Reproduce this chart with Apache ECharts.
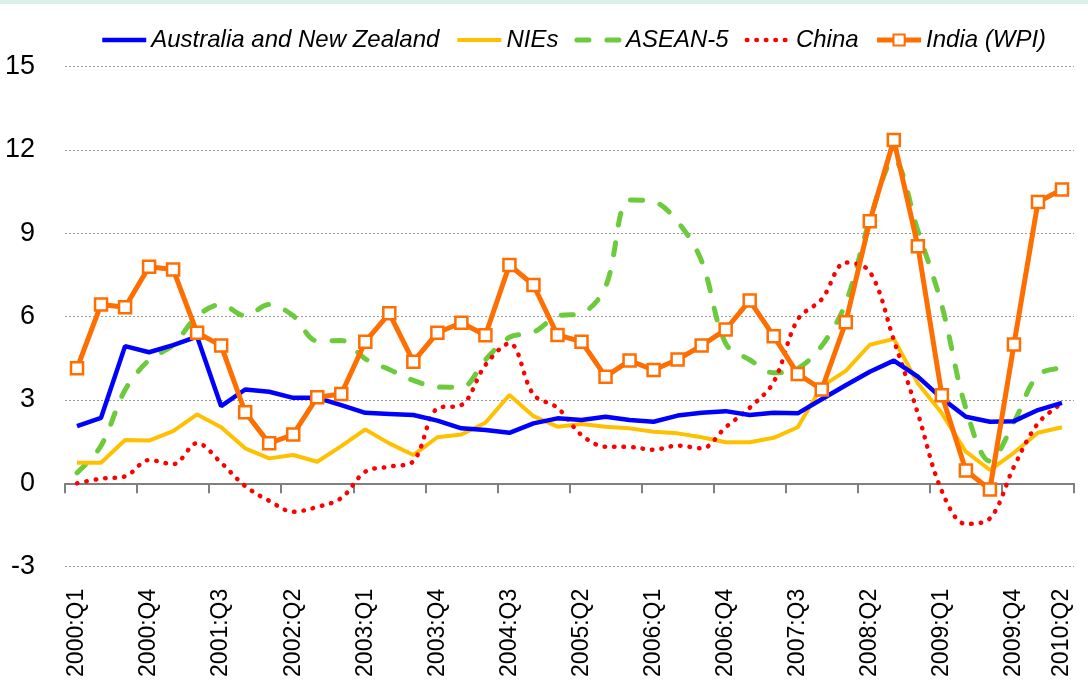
<!DOCTYPE html>
<html>
<head>
<meta charset="utf-8">
<script src="https://cdn.jsdelivr.net/npm/echarts@6/dist/echarts.min.js"></script>
<style>
html,body{margin:0;padding:0;background:#fff;}
#chart{width:1088px;height:685px;}
</style>
</head>
<body>
<div id="chart"></div>
<script>
const quarters = [
  "2000:Q1","2000:Q2","2000:Q3","2000:Q4","2001:Q1","2001:Q2","2001:Q3","2001:Q4",
  "2002:Q1","2002:Q2","2002:Q3","2002:Q4","2003:Q1","2003:Q2","2003:Q3","2003:Q4",
  "2004:Q1","2004:Q2","2004:Q3","2004:Q4","2005:Q1","2005:Q2","2005:Q3","2005:Q4",
  "2006:Q1","2006:Q2","2006:Q3","2006:Q4","2007:Q1","2007:Q2","2007:Q3","2007:Q4",
  "2008:Q1","2008:Q2","2008:Q3","2008:Q4","2009:Q1","2009:Q2","2009:Q3","2009:Q4",
  "2010:Q1","2010:Q2"
];
const yTicks = [-3, 0, 3, 6, 9, 12, 15];

const anz = [2.06,2.36,4.94,4.72,4.98,5.28,2.78,3.38,3.30,3.08,3.08,2.82,2.54,2.50,2.46,2.26,1.98,1.92,1.82,2.16,2.34,2.28,2.40,2.28,2.22,2.44,2.54,2.60,2.46,2.54,2.52,3.03,3.53,4.02,4.42,3.84,3.06,2.40,2.22,2.24,2.64,2.90];
const nies = [0.74,0.74,1.56,1.54,1.88,2.48,2.02,1.26,0.90,1.02,0.78,1.34,1.94,1.44,1.02,1.66,1.76,2.18,3.18,2.42,2.04,2.14,2.04,1.98,1.86,1.80,1.66,1.48,1.48,1.64,2.02,3.49,4.05,4.99,5.20,3.60,2.52,1.14,0.48,1.10,1.82,2.02];
const asean5 = [0.38,1.35,3.36,4.44,4.98,6.01,6.44,6.03,6.44,6.03,5.13,5.14,4.48,4.10,3.71,3.47,3.46,4.45,5.26,5.44,6.02,6.12,7.08,10.20,10.14,9.42,8.00,5.04,4.45,3.98,4.14,4.95,6.50,9.48,11.64,9.10,6.40,2.70,0.80,2.20,3.90,4.15];
const china = [0.00,0.17,0.25,0.84,0.69,1.45,0.74,-0.10,-0.63,-1.02,-0.85,-0.53,0.42,0.60,0.80,2.70,2.82,4.26,5.04,3.20,2.72,1.74,1.32,1.31,1.21,1.36,1.26,2.02,2.72,3.65,5.90,6.63,7.95,7.62,5.16,2.52,-0.28,-1.46,-1.26,0.60,2.16,2.88];
const indiaWPI = [4.14,6.44,6.34,7.80,7.70,5.42,4.96,2.56,1.44,1.76,3.10,3.22,5.10,6.12,4.38,5.42,5.78,5.33,7.86,7.14,5.34,5.10,3.84,4.42,4.08,4.46,4.96,5.54,6.58,5.30,3.94,3.38,5.80,9.44,12.36,8.54,3.17,0.46,-0.22,5.00,10.13,10.58];

const font = "'Liberation Sans',Arial,sans-serif";
const hideSym = {opacity: 0};

const chart = echarts.init(document.getElementById('chart'), null, {renderer: 'canvas'});
chart.setOption({
  animation: false,
  backgroundColor: '#ffffff',
  graphic: [{
    type: 'rect', left: 0, top: 0, z: -1,
    shape: {width: 1088, height: 4},
    style: {fill: '#dcefe8'}
  }],
  legend: {
    top: 23, left: 95,
    itemWidth: 44, itemHeight: 14, itemGap: 16,
    lineStyle: {width: 'inherit'},
    textStyle: {fontSize: 24, fontStyle: 'italic', fontFamily: font, color: '#000'},
    data: [
      {name: 'Australia and New Zealand', itemStyle: hideSym},
      {name: 'NIEs', itemStyle: hideSym},
      {name: 'ASEAN-5', itemStyle: hideSym},
      {name: 'China', itemStyle: hideSym},
      {name: 'India (WPI)'}
    ]
  },
  grid: {left: 65, top: 66.7, width: 1009, height: 500, containLabel: false},
  xAxis: [{
    type: 'category', data: quarters, boundaryGap: true,
    axisLine: {show: true, onZero: true, lineStyle: {color: '#808080', width: 2}},
    axisTick: {show: true, interval: 2, length: 10, lineStyle: {color: '#808080', width: 2}},
    axisLabel: {show: false},
    splitLine: {show: false}
  }, {
    type: 'category', data: quarters, boundaryGap: true, position: 'bottom',
    axisLine: {show: false, onZero: false},
    axisTick: {show: false},
    axisLabel: {
      show: true, rotate: 90, margin: 22, fontSize: 23, color: '#000',
      fontFamily: font,
      interval: function (i) { return i % 3 === 0 || i === quarters.length - 1; }
    },
    splitLine: {show: false}
  }],
  yAxis: {
    type: 'value', min: yTicks[0], max: yTicks[yTicks.length - 1], interval: 3,
    axisLine: {show: false}, axisTick: {show: false},
    axisLabel: {fontSize: 27, fontFamily: font, color: '#000', margin: 30},
    splitLine: {show: true, lineStyle: {color: '#9a9a9a', width: 1, type: [2, 2]}}
  },
  series: [{
    name: 'Australia and New Zealand', type: 'line', data: anz, xAxisIndex: 0,
    symbol: 'none', lineStyle: {color: '#0000ff', width: 4.5}, itemStyle: {color: '#0000ff'}, z: 3
  }, {
    name: 'NIEs', type: 'line', data: nies, xAxisIndex: 0,
    symbol: 'none', lineStyle: {color: '#ffc000', width: 4}, itemStyle: {color: '#ffc000'}, z: 2
  }, {
    name: 'ASEAN-5', type: 'line', data: asean5, xAxisIndex: 0, smooth: 0.35,
    symbol: 'none', lineStyle: {color: '#6ccb3d', width: 5, type: [12, 18], cap: 'round'}, itemStyle: {color: '#6ccb3d'}, z: 1
  }, {
    name: 'China', type: 'line', data: china, xAxisIndex: 0, smooth: 0.35,
    symbol: 'none', lineStyle: {color: '#ff0000', width: 4.5, type: [0.5, 9], cap: 'round'}, itemStyle: {color: '#ff0000'}, z: 2
  }, {
    name: 'India (WPI)', type: 'line', data: indiaWPI, xAxisIndex: 0,
    symbol: 'rect', symbolSize: 12, showAllSymbol: true,
    lineStyle: {color: '#ff6e00', width: 5},
    itemStyle: {color: '#ffffff', borderColor: '#ff6e00', borderWidth: 2.5}, z: 4
  }]
});
</script>
</body>
</html>
